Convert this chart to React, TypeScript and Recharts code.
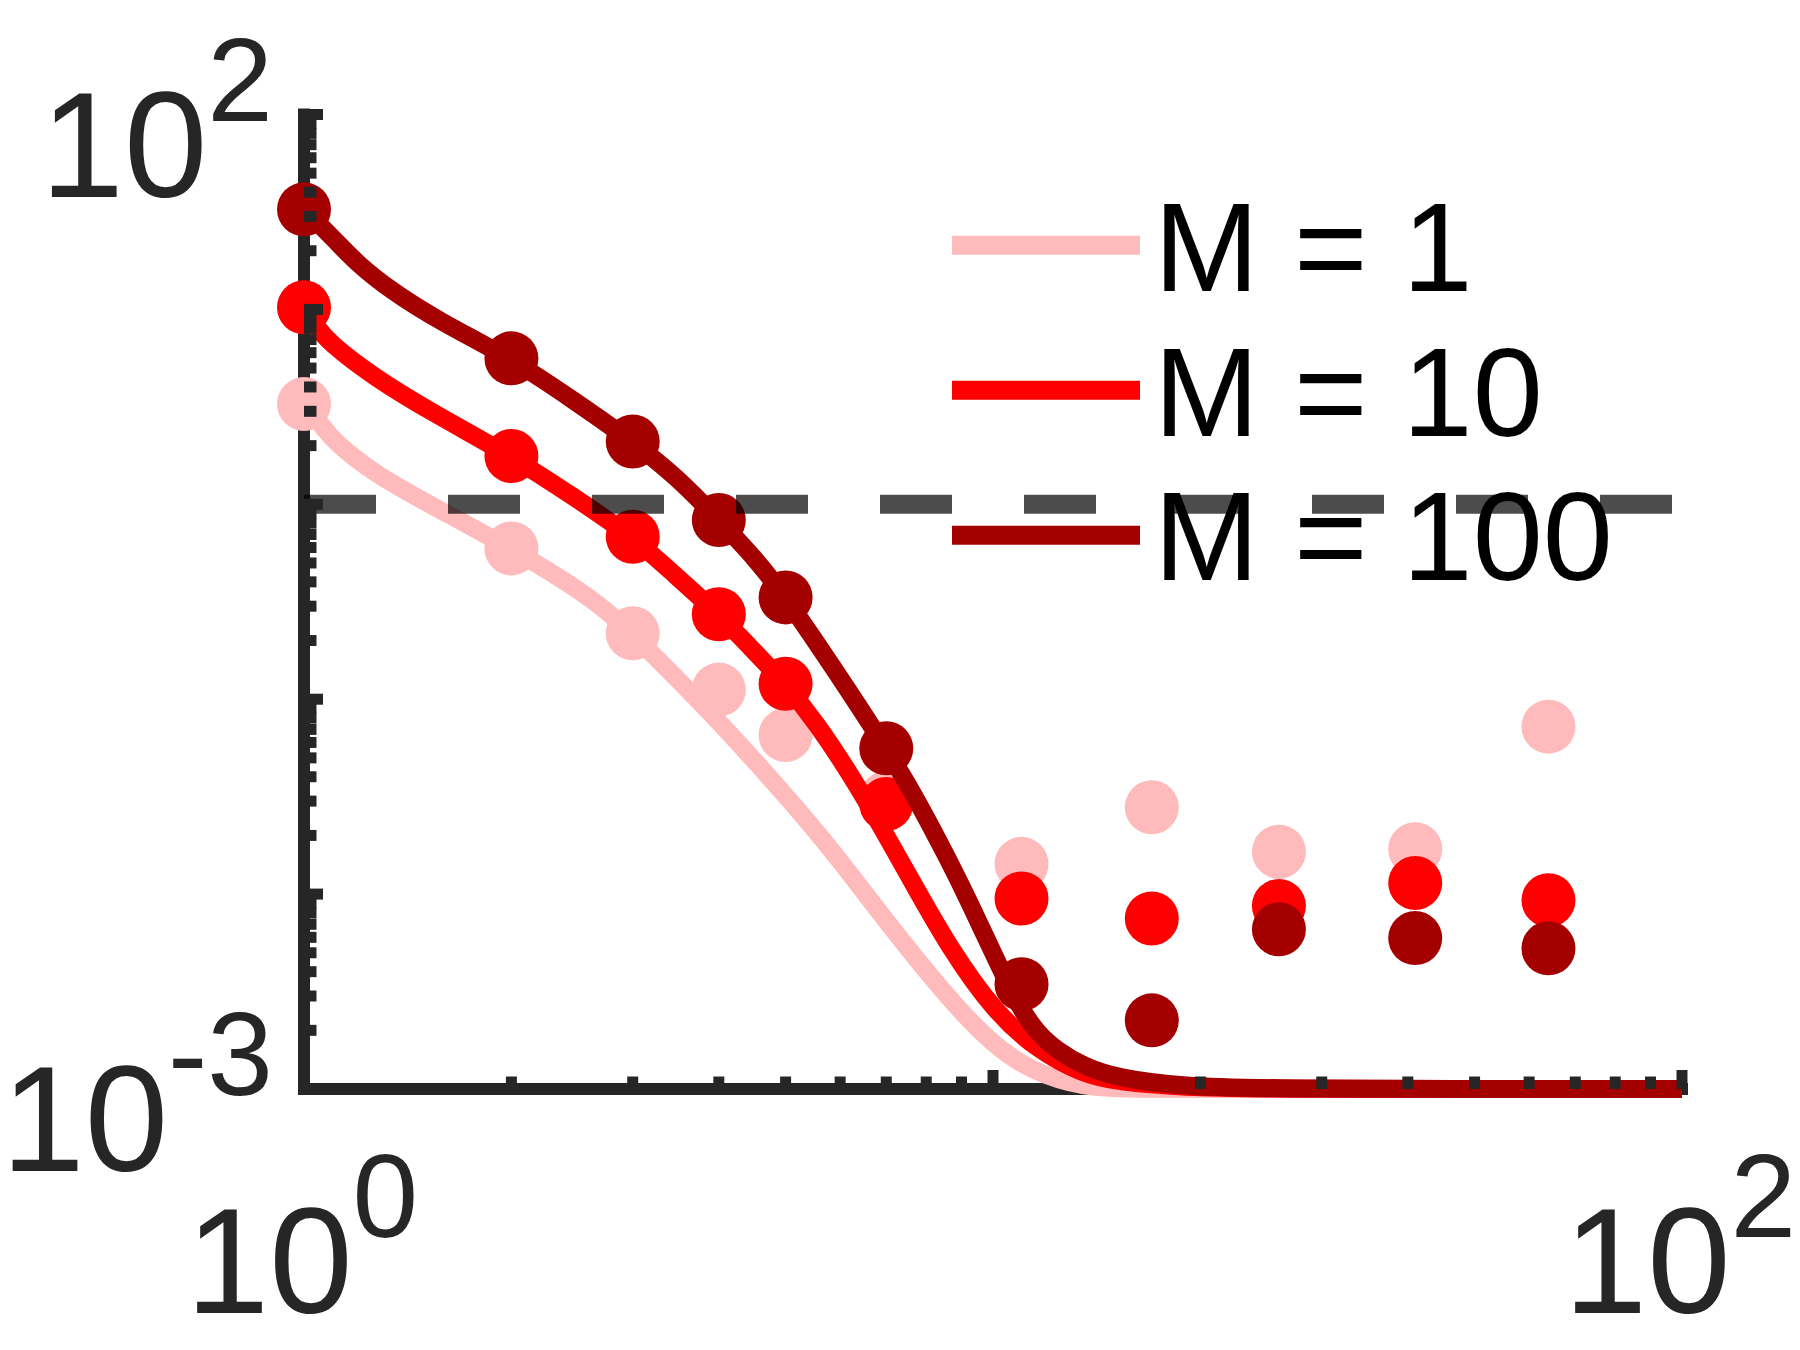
import { ComposedChart, Legend, Line, ReferenceLine, Scatter, XAxis, YAxis } from 'recharts';

const FONT = '"Liberation Sans", Arial, Helvetica, sans-serif';
const AXIS = '#262626';

const seriesNames = ['M = 1', 'M = 10', 'M = 100'];
const seriesColors = ['#ffbbbb', '#ff0000', '#a50000'];

// measured points (markers)
const markerX = [1, 2, 3, 4, 5, 7, 11, 17, 26, 41, 64];
const markerM1 = [3.27, 0.594, 0.218, 0.112, 0.0655, 0.0311, 0.0143, 0.0279, 0.0165, 0.017, 0.0723];
const markerM10 = [10.25, 1.77, 0.682, 0.273, 0.12, 0.029, 0.0095, 0.0075, 0.0087, 0.0114, 0.0093];
const markerM100 = [32.6, 5.61, 2.1, 0.831, 0.333, 0.056, 0.00345, 0.00225, 0.0066, 0.00595, 0.00527];

// model curves (solid lines)
const curveM1X = [1, 1.066, 1.1, 1.26, 1.575, 2, 2.69, 3.18, 3.76, 4.44, 5.07, 5.87, 6.56, 7.33, 8.66, 10, 11.44, 13.5, 16, 20, 100];
const curveM1Y = [3.27, 2.5, 2.14, 1.44, 0.935, 0.594, 0.316, 0.175, 0.0967, 0.0514, 0.0303, 0.0164, 0.0098, 0.0059, 0.00286, 0.00168, 0.00122, 0.00102, 0.001, 0.001, 0.001];

const curveM10X = [1, 1.042, 1.09, 1.26, 1.54, 2, 2.46, 3, 3.43, 4, 4.34, 5, 5.55, 6.2, 6.93, 7.75, 8.66, 10, 11.57, 13.52, 15.1, 18.9, 25, 100];
const curveM10Y = [10.25, 8.15, 6.7, 4.52, 2.93, 1.77, 1.094, 0.682, 0.443, 0.273, 0.201, 0.12, 0.0751, 0.0416, 0.0213, 0.0105, 0.00527, 0.00254, 0.00159, 0.00119, 0.00109, 0.00102, 0.001, 0.001];

const curveM100X = [1, 1.06, 1.102, 1.192, 1.332, 1.575, 2, 2.458, 3, 3.47, 4, 4.54, 5, 5.86, 7, 7.75, 8.66, 9.16, 10.12, 10.82, 11.57, 12.38, 13.52, 15.1, 18.9, 25, 100];
const curveM100Y = [32.6, 26.6, 23.2, 17.3, 12.6, 8.65, 5.61, 3.43, 2.1, 1.39, 0.831, 0.518, 0.333, 0.146, 0.056, 0.0307, 0.0145, 0.0097, 0.00457, 0.00278, 0.00195, 0.00158, 0.00131, 0.00114, 0.00103, 0.001, 0.001];

const thresholdY = 1;

// ticks
const mantissas = [1, 2, 3, 4, 5, 6, 7, 8, 9];
const xDecades = [1, 10];
const yDecades = [0.001, 0.01, 0.1, 1, 10];
const xTicks = [...xDecades.flatMap((d) => mantissas.map((m) => m * d)), 100];
const yTicks = [...yDecades.flatMap((d) => mantissas.map((m) => +(m * d).toPrecision(3))), 100];
const xLabelValues = [1, 100];
const xLabelExps = ['0', '2'];
const yLabelValues = [0.001, 100];
const yLabelExps = ['-3', '2'];

const toPoints = (xs: number[], ys: number[]) => xs.map((x, i) => ({ x, y: ys[i] }));

const curves = [toPoints(curveM1X, curveM1Y), toPoints(curveM10X, curveM10Y), toPoints(curveM100X, curveM100Y)];
const markers = [markerM1, markerM10, markerM100].map((ys) => toPoints(markerX, ys));

const isDecade = (v: number) => Math.abs(Math.log10(v) - Math.round(Math.log10(v))) < 1e-6;

function YTick({ x, y, payload }: any) {
  const v = payload.value;
  const major = isDecade(v);
  const li = yLabelValues.findIndex((l) => Math.abs(l - v) < 1e-12);
  return (
    <g>
      <line x1={x} y1={y} x2={x + (major ? 19 : 12.5)} y2={y} stroke={AXIS} strokeWidth={11} />
      {li >= 0 && (
        <text x={x - 31} y={y + 82} textAnchor="end" fill={AXIS} fontFamily={FONT} fontSize={150}>
          <tspan>10</tspan>
          <tspan dy={-76} fontSize={118}>{yLabelExps[li]}</tspan>
        </text>
      )}
    </g>
  );
}

function XTick({ x, y, payload }: any) {
  const v = payload.value;
  const major = isDecade(v);
  const li = xLabelValues.findIndex((l) => Math.abs(l - v) < 1e-9);
  return (
    <g>
      <line x1={x} y1={y} x2={x} y2={y - (major ? 19 : 12.5)} stroke={AXIS} strokeWidth={11} />
      {li >= 0 && (
        <text x={x - 2} y={y + 224} textAnchor="middle" fill={AXIS} fontFamily={FONT} fontSize={150}>
          <tspan>10</tspan>
          <tspan dy={-76} fontSize={118}>{xLabelExps[li]}</tspan>
        </text>
      )}
    </g>
  );
}

function LegendBox() {
  return (
    <svg width={1800} height={1350} style={{ position: 'absolute', left: 0, top: 0, pointerEvents: 'none' }}>
      {seriesNames.map((name, i) => (
        <g key={name}>
          <line x1={952} x2={1140} y1={245.3 + 145 * i} y2={245.3 + 145 * i} stroke={seriesColors[i]} strokeWidth={19} />
          <text x={1154} y={291.3 + 144.5 * i} fill="#000" fontFamily={FONT} fontSize={126}>
            {name}
          </text>
        </g>
      ))}
    </svg>
  );
}

const renderMarker = (color: string) => (p: any) => <circle cx={p.cx} cy={p.cy} r={27} fill={color} />;

export default function App() {
  return (
    <div style={{ position: 'fixed', left: 0, top: 0, width: 1800, height: 1350, background: '#fff' }}>
      <ComposedChart width={1800} height={1350} margin={{ top: 114.5, right: 118, bottom: 0, left: 0 }}>
        <XAxis
          type="number"
          dataKey="x"
          scale="log"
          domain={[1, 100]}
          ticks={xTicks}
          interval={0}
          height={261}
          tickLine={false}
          tickSize={0}
          tickMargin={0}
          tick={<XTick />}
          axisLine={{ stroke: AXIS, strokeWidth: 12, strokeLinecap: 'square' }}
          zIndex={100}
        />
        <YAxis
          type="number"
          dataKey="y"
          scale="log"
          domain={[0.001, 100]}
          ticks={yTicks}
          interval={0}
          width={304}
          tickLine={false}
          tickSize={0}
          tickMargin={0}
          tick={<YTick />}
          axisLine={{ stroke: AXIS, strokeWidth: 12, strokeLinecap: 'square' }}
          zIndex={100}
        />
        {seriesNames.map((name, i) => [
          <Line
            key={`line-${name}`}
            data={curves[i]}
            dataKey="y"
            name={name}
            type="basis"
            stroke={seriesColors[i]}
            strokeWidth={18}
            dot={false}
            activeDot={false}
            legendType="none"
            isAnimationActive={false}
            zIndex={600 + i * 2}
          />,
          <Scatter
            key={`pts-${name}`}
            data={markers[i]}
            dataKey="y"
            name={name}
            fill={seriesColors[i]}
            shape={renderMarker(seriesColors[i])}
            legendType="none"
            isAnimationActive={false}
            zIndex={601 + i * 2}
          />,
        ])}
        <ReferenceLine
          y={thresholdY}
          stroke="#000"
          strokeOpacity={0.7}
          strokeWidth={19}
          strokeDasharray="72 72"
          zIndex={800}
        />
        <Legend
          layout="horizontal"
          align="center"
          verticalAlign="middle"
          content={() => <LegendBox />}
          wrapperStyle={{ position: 'absolute', left: 0, top: 0, width: 1800, height: 1350 }}
        />
      </ComposedChart>
    </div>
  );
}
